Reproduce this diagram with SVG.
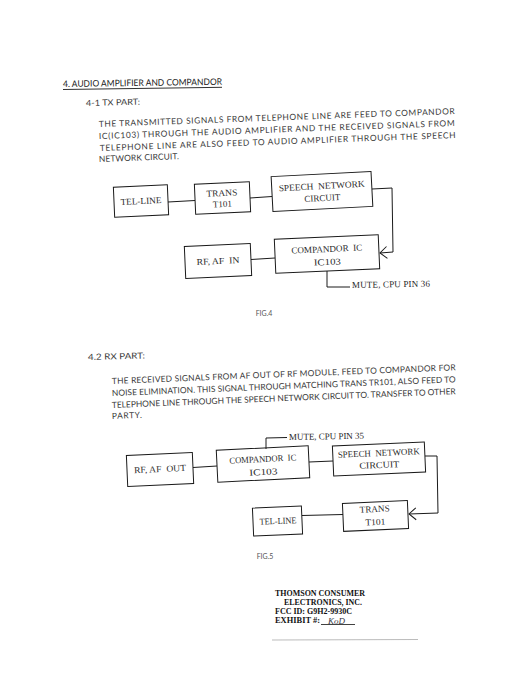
<svg xmlns="http://www.w3.org/2000/svg" width="520" height="700" viewBox="0 0 520 700">
<style>
.bg{fill:#ffffff}
.p{font-family:Lato,"Liberation Sans",sans-serif;font-size:8.4px;fill:#3a3a3a}
.h{font-family:Lato,"Liberation Sans",sans-serif;font-size:9px;fill:#1a1a1a}
.cap{font-family:Lato,"Liberation Sans",sans-serif;font-size:7px;fill:#555}
.box{fill:none;stroke:#1a1a1a;stroke-width:1}
.bt{font-family:"Liberation Serif","Times New Roman",serif;font-size:9px;fill:#2a2a2a;text-anchor:middle;white-space:pre}
.lt{font-family:"Liberation Serif","Times New Roman",serif;font-size:9px;fill:#2a2a2a}
.c{fill:none;stroke:#1a1a1a;stroke-width:1}
.f{font-family:"Liberation Serif","Times New Roman",serif;font-size:8.6px;font-weight:bold;fill:#111}
</style>
<defs>
<marker id="open" markerUnits="userSpaceOnUse" markerWidth="14" markerHeight="14" refX="0" refY="0" viewBox="-8 -7 9 14" orient="auto" overflow="visible">
<path d="M-7,-6 L0,0 L-7,6" fill="none" stroke="#1a1a1a" stroke-width="1"/>
</marker>
</defs>
<rect class="bg" x="0" y="0" width="520" height="700"/>

<g id="heading">
<text class="h" x="63" y="87" textLength="159" lengthAdjust="spacingAndGlyphs" transform="rotate(-0.8 63 87)">4. AUDIO AMPLIFIER AND COMPANDOR</text>
<line x1="63" y1="89.5" x2="222" y2="87.3" stroke="#1a1a1a" stroke-width="0.9"/>
</g>

<g id="tx-text">
<text class="p" x="86" y="106" textLength="54" lengthAdjust="spacingAndGlyphs" transform="rotate(-1.5 86 106)">4-1 TX PART:</text>
<text class="p" x="99" y="127" textLength="356" lengthAdjust="spacing" transform="rotate(-2.1 99 127)">THE TRANSMITTED SIGNALS FROM TELEPHONE LINE ARE FEED TO COMPANDOR</text>
<text class="p" x="99" y="139" textLength="356" lengthAdjust="spacing" transform="rotate(-2.1 99 139)">IC(IC103) THROUGH THE AUDIO AMPLIFIER AND THE RECEIVED SIGNALS FROM</text>
<text class="p" x="100" y="151" textLength="356" lengthAdjust="spacing" transform="rotate(-2.1 100 151)">TELEPHONE LINE ARE ALSO FEED TO AUDIO AMPLIFIER THROUGH THE SPEECH</text>
<text class="p" x="99" y="162" textLength="80" lengthAdjust="spacing" transform="rotate(-2.1 99 162)">NETWORK CIRCUIT.</text>
</g>

<g id="fig4">
<g id="f4-telline" transform="rotate(-2.5 141 201)">
<rect class="box" x="114" y="186" width="54" height="30"/>
<text class="bt" x="141" y="204" textLength="41" lengthAdjust="spacingAndGlyphs">TEL-LINE</text>
</g>
<g id="f4-trans" transform="rotate(-2.5 222 198)">
<rect class="box" x="195" y="183" width="55" height="30"/>
<text class="bt" x="222" y="196" textLength="31" lengthAdjust="spacingAndGlyphs">TRANS</text>
<text class="bt" x="222" y="207" textLength="19" lengthAdjust="spacingAndGlyphs">T101</text>
</g>
<g id="f4-speech" transform="rotate(-3 322 192)">
<rect class="box" x="272" y="174" width="100" height="35"/>
<text class="bt" x="322" y="189" textLength="86" lengthAdjust="spacingAndGlyphs" xml:space="preserve">SPEECH  NETWORK</text>
<text class="bt" x="322" y="201" textLength="36" lengthAdjust="spacingAndGlyphs">CIRCUIT</text>
</g>
<g id="f4-compandor" transform="rotate(-2.5 327 254)">
<rect class="box" x="275" y="237" width="104" height="34"/>
<text class="bt" x="327" y="252" textLength="71" lengthAdjust="spacingAndGlyphs" xml:space="preserve">COMPANDOR  IC</text>
<text class="bt" x="327" y="265" textLength="27" lengthAdjust="spacingAndGlyphs">IC103</text>
</g>
<g id="f4-rfafin" transform="rotate(-2.5 218 261)">
<rect class="box" x="185" y="245" width="66" height="32"/>
<text class="bt" x="218" y="264" textLength="43" lengthAdjust="spacingAndGlyphs" xml:space="preserve">RF, AF  IN</text>
</g>
<g id="f4-mute">
<text class="lt" x="352" y="288" textLength="78" lengthAdjust="spacing" transform="rotate(-1 352 288)">MUTE, CPU PIN 36</text>
</g>
<text class="cap" x="264" y="316" text-anchor="middle">FIG.4</text>
</g>

<g id="rx-text">
<text class="p" x="88" y="360" textLength="57" lengthAdjust="spacingAndGlyphs" transform="rotate(-1.5 88 360)">4.2 RX PART:</text>
<text class="p" x="112" y="384" textLength="344" lengthAdjust="spacing" transform="rotate(-2.3 112 384)">THE RECEIVED SIGNALS FROM AF OUT OF RF MODULE, FEED TO COMPANDOR FOR</text>
<text class="p" x="112" y="396" textLength="344" lengthAdjust="spacing" transform="rotate(-2.3 112 396)">NOISE ELIMINATION. THIS SIGNAL THROUGH MATCHING TRANS TR101, ALSO FEED TO</text>
<text class="p" x="112" y="408" textLength="344" lengthAdjust="spacing" transform="rotate(-2.3 112 408)">TELEPHONE LINE THROUGH THE SPEECH NETWORK CIRCUIT TO. TRANSFER TO OTHER</text>
<text class="p" x="112" y="419" textLength="30" lengthAdjust="spacing" transform="rotate(-2.3 112 419)">PARTY.</text>
</g>

<g id="fig5">
<g id="f5-rfafout" transform="rotate(-2.5 160 469)">
<rect class="box" x="127" y="454" width="66" height="31"/>
<text class="bt" x="160" y="472" textLength="52" lengthAdjust="spacingAndGlyphs" xml:space="preserve">RF, AF  OUT</text>
</g>
<g id="f5-compandor" transform="rotate(-2.8 263 464)">
<rect class="box" x="217" y="448" width="92" height="32"/>
<text class="bt" x="263" y="462" textLength="67" lengthAdjust="spacingAndGlyphs" xml:space="preserve">COMPANDOR  IC</text>
<text class="bt" x="263" y="475" textLength="28" lengthAdjust="spacingAndGlyphs">IC103</text>
</g>
<g id="f5-speech" transform="rotate(-2.5 379 459)">
<rect class="box" x="333" y="444" width="92" height="30"/>
<text class="bt" x="379" y="456" textLength="82" lengthAdjust="spacingAndGlyphs" xml:space="preserve">SPEECH  NETWORK</text>
<text class="bt" x="379" y="468" textLength="40" lengthAdjust="spacingAndGlyphs">CIRCUIT</text>
</g>
<g id="f5-trans" transform="rotate(-2.5 375 516)">
<rect class="box" x="343" y="502" width="65" height="28"/>
<text class="bt" x="375" y="512" textLength="30" lengthAdjust="spacingAndGlyphs">TRANS</text>
<text class="bt" x="375" y="525" textLength="20" lengthAdjust="spacingAndGlyphs">T101</text>
</g>
<g id="f5-telline" transform="rotate(-2.5 278 521)">
<rect class="box" x="253" y="507" width="49" height="28"/>
<text class="bt" x="278" y="524" textLength="37" lengthAdjust="spacingAndGlyphs">TEL-LINE</text>
</g>
<g id="f5-mute">
<text class="lt" x="289" y="440" textLength="75" lengthAdjust="spacing" transform="rotate(-1 289 440)">MUTE, CPU PIN 35</text>
</g>
<text class="cap" x="265" y="559" text-anchor="middle">FIG.5</text>
</g>

<g id="connectors">
<polyline class="c" points="168,202 195,200.5"/>
<polyline class="c" points="250,198 272,196.5"/>
<polyline class="c" points="372,189 392,188 393,252 380,253" marker-end="url(#open)"/>
<polyline class="c" points="251,259.5 275,258"/>
<polyline class="c" points="327,271 327,287 350,287"/>
<polyline class="c" points="193,467.5 217,466"/>
<polyline class="c" points="309,462 333,461"/>
<polyline class="c" points="425,456 437,456 438,513 409,514" marker-end="url(#open)"/>
<polyline class="c" points="343,514.5 302,515.5"/>
<polyline class="c" points="266,449 266,438 287,437.5"/>
</g>

<g id="footer">
<text class="f" x="275" y="596" textLength="90" lengthAdjust="spacingAndGlyphs">THOMSON CONSUMER</text>
<text class="f" x="284" y="605" textLength="78" lengthAdjust="spacingAndGlyphs">ELECTRONICS, INC.</text>
<text class="f" x="275" y="614" textLength="77" lengthAdjust="spacingAndGlyphs">FCC ID: G9H2-9930C</text>
<text class="f" x="275" y="623" textLength="45" lengthAdjust="spacingAndGlyphs">EXHIBIT #:</text>
<line x1="321" y1="624.5" x2="355" y2="624.5" stroke="#111" stroke-width="0.8"/>
<text x="328" y="623.5" font-family="'Liberation Serif',serif" font-style="italic" font-size="9px" fill="#3a3a48">KoD</text>
<line x1="272" y1="640" x2="418" y2="639.5" stroke="#aaa" stroke-width="0.8"/>
</g>
</svg>
